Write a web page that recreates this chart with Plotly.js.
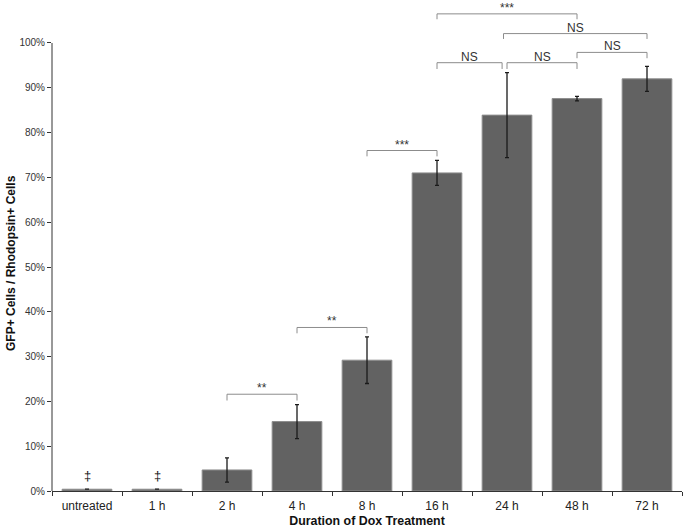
<!DOCTYPE html>
<html>
<head>
<meta charset="utf-8">
<script src="https://cdn.plot.ly/plotly-3.0.1.min.js"></script>
<style>html,body{margin:0;padding:0;background:#fff;}#chart{width:683px;height:531px;}</style>
</head>
<body>
<div id="chart"></div>
<script>
// ---- data ----
const categories = ["untreated", "1 h", "2 h", "4 h", "8 h", "16 h", "24 h", "48 h", "72 h"];
const values = [0.4, 0.4, 4.7, 15.5, 29.2, 71.0, 83.9, 87.6, 92.0];
const errors = [0, 0, 2.7, 3.8, 5.2, 2.8, 9.5, 0.5, 2.8];
const yTickVals = [0, 10, 20, 30, 40, 50, 60, 70, 80, 90, 100];
const yTickText = ["0%", "10%", "20%", "30%", "40%", "50%", "60%", "70%", "80%", "90%", "100%"];
const markerLabels = ["‡", "‡"];          // shown over untreated and 1 h
const markerCats = [0, 1];
const markerLevels = [3.4, 3.4];
// significance comparisons: label, left position, right position, bracket level, drop level
const sigLabels = ["**", "**", "***", "NS", "NS", "NS", "NS", "***"];
const sigLeft   = [2, 3, 4, 5, 6.0, 7, 5.95, 5];
const sigRight  = [3, 4, 5, 5.93, 7, 8, 8, 7];
const sigLevel  = [21.6, 36.5, 76.0, 95.6, 95.6, 97.9, 102.1, 106.5];
const sigDrop   = [20.2, 35.2, 74.7, 94.2, 94.2, 96.6, 100.9, 105.3];
const xTitle = "Duration of Dox Treatment";
const yTitle = "GFP+ Cells / Rhodopsin+ Cells";

// ---- styles ----
const FONT = "Liberation Sans, Arial, Helvetica, sans-serif";
const bracketColor = "#8c8c8c";

const shapes = [];
const annotations = [];
for (let i = 0; i < sigLabels.length; i++) {
  const ln = {color: bracketColor, width: 1};
  shapes.push({type: "line", xref: "x", yref: "y", x0: sigLeft[i], x1: sigRight[i], y0: sigLevel[i], y1: sigLevel[i], line: ln});
  shapes.push({type: "line", xref: "x", yref: "y", x0: sigLeft[i], x1: sigLeft[i], y0: sigLevel[i], y1: sigDrop[i], line: ln});
  shapes.push({type: "line", xref: "x", yref: "y", x0: sigRight[i], x1: sigRight[i], y0: sigLevel[i], y1: sigDrop[i], line: ln});
  annotations.push({
    xref: "x", yref: "y", x: (sigLeft[i] + sigRight[i]) / 2, y: sigLevel[i],
    text: sigLabels[i], showarrow: false, yanchor: "bottom", yshift: -3,
    font: {family: FONT, size: 12, color: "#333"}
  });
}
for (let i = 0; i < markerLabels.length; i++) {
  annotations.push({
    xref: "x", yref: "y", x: markerCats[i], y: markerLevels[i], text: markerLabels[i],
    showarrow: false, yanchor: "middle", font: {family: FONT, size: 13, color: "#111"}
  });
}
// y axis title (centered on 0-100% span)
annotations.push({
  xref: "paper", yref: "y", x: -0.065, y: 50.9, text: "<b>" + yTitle + "</b>",
  textangle: -90, showarrow: false, xanchor: "center", yanchor: "middle",
  font: {family: FONT, size: 12, color: "#111"}
});
// y axis line spanning 0-100%
shapes.push({type: "line", xref: "paper", yref: "y", x0: 0, x1: 0, y0: 0, y1: 100, line: {color: "#333", width: 1}});

const trace = {
  type: "bar",
  x: categories,
  y: values,
  error_y: {type: "data", array: errors, visible: true, color: "#1a1a1a", thickness: 1.3, width: 2},
  marker: {color: "#626262", line: {color: "#8e8e8e", width: 1}},
  width: 0.71,
  hoverinfo: "none"
};

const layout = {
  width: 683, height: 531,
  margin: {l: 52, r: 1, t: 2, b: 40, pad: 0},
  paper_bgcolor: "#fff", plot_bgcolor: "#fff",
  showlegend: false,
  font: {family: FONT, color: "#333"},
  xaxis: {
    type: "category", range: [-0.5, 8.5], fixedrange: true,
    showline: true, linecolor: "#333", linewidth: 1,
    ticks: "outside", tickson: "boundaries", ticklen: 4, tickcolor: "#333",
    ticklabelstandoff: 4,
    tickfont: {family: FONT, size: 12, color: "#222"},
    showgrid: false, zeroline: false, automargin: false,
    title: {text: "<b>" + xTitle + "</b>", font: {family: FONT, size: 12.4, color: "#111"}, standoff: 3}
  },
  yaxis: {
    range: [0, 109.15], fixedrange: true,
    tickvals: yTickVals, ticktext: yTickText,
    showline: false, ticks: "outside", ticklen: 4, tickcolor: "#333",
    tickfont: {family: FONT, size: 10, color: "#333"},
    showgrid: false, zeroline: false, automargin: false
  },
  shapes: shapes,
  annotations: annotations
};

Plotly.newPlot("chart", [trace], layout, {displayModeBar: false, staticPlot: true});
</script>
</body>
</html>
